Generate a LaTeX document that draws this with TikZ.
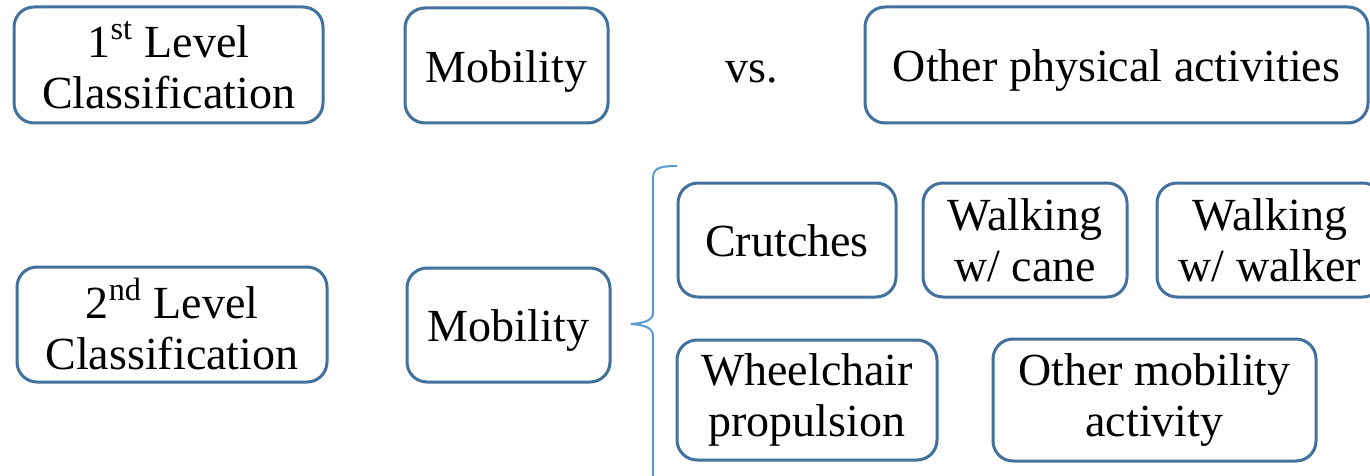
\documentclass[tikz,border=0pt]{standalone}
\usepackage{fontspec}
\setmainfont{Liberation Serif}
\definecolor{boxblue}{RGB}{65,113,156}
\definecolor{braceblue}{RGB}{91,155,213}
\begin{document}
\begin{tikzpicture}[x=0.5pt,y=-0.5pt,
  box/.style={draw=boxblue, line width=1.5pt, rounded corners=10pt, align=center, inner sep=0pt,
    font=\fontsize{23pt}{25.5pt}\selectfont},
  oneline/.style={text height=18pt, text depth=1.3pt},
  plain/.style={align=center, inner sep=0pt, font=\fontsize{23pt}{25.5pt}\selectfont}]
\useasboundingbox (0,0) rectangle (1370,476);
\clip (0,0) rectangle (1370,476);
\fill[white] (0,0) rectangle (1370,476);
% first level
\node[box, minimum width=154.5pt, minimum height=58pt] (l1) at (168.5,65) {1\textsuperscript{st} Level\\Classification};
\node[box, oneline, minimum width=101.5pt, minimum height=57.5pt] (m1) at (506.5,65.5) {Mobility};
\node[plain, oneline] (vs) at (752,66) {vs.};
\node[box, oneline, minimum width=251.5pt, minimum height=58pt] (o1) at (1116.5,65) {Other physical activities};
% second level
\node[box, minimum width=155pt, minimum height=57.5pt] (l2) at (172,324.5) {2\textsuperscript{nd} Level\\Classification};
\node[box, oneline, minimum width=101.5pt, minimum height=57pt] (m2) at (508.5,325) {Mobility};
\node[box, oneline, minimum width=109pt, minimum height=57pt] (cr) at (787,240) {Crutches};
\node[box, minimum width=102pt, minimum height=57pt] (wc) at (1025,240) {Walking\\w/ cane};
\node[box, minimum width=113pt, minimum height=57pt] (ww) at (1270,240) {Walking\\w/ walker};
\node[box, minimum width=130pt, minimum height=60pt] (wp) at (807,400) {Wheelchair\\propulsion};
\node[box, minimum width=161.5pt, minimum height=61pt] (om) at (1154.5,400) {Other mobility\\activity};
% brace
\draw[braceblue, line width=1pt] (677,166) .. controls (660,166) and (653,168) .. (653,178)
  -- (653,313) .. controls (653,320) and (645,323) .. (631,324)
  .. controls (645,325) and (653,328) .. (653,336) -- (653,480);
\end{tikzpicture}
\end{document}
